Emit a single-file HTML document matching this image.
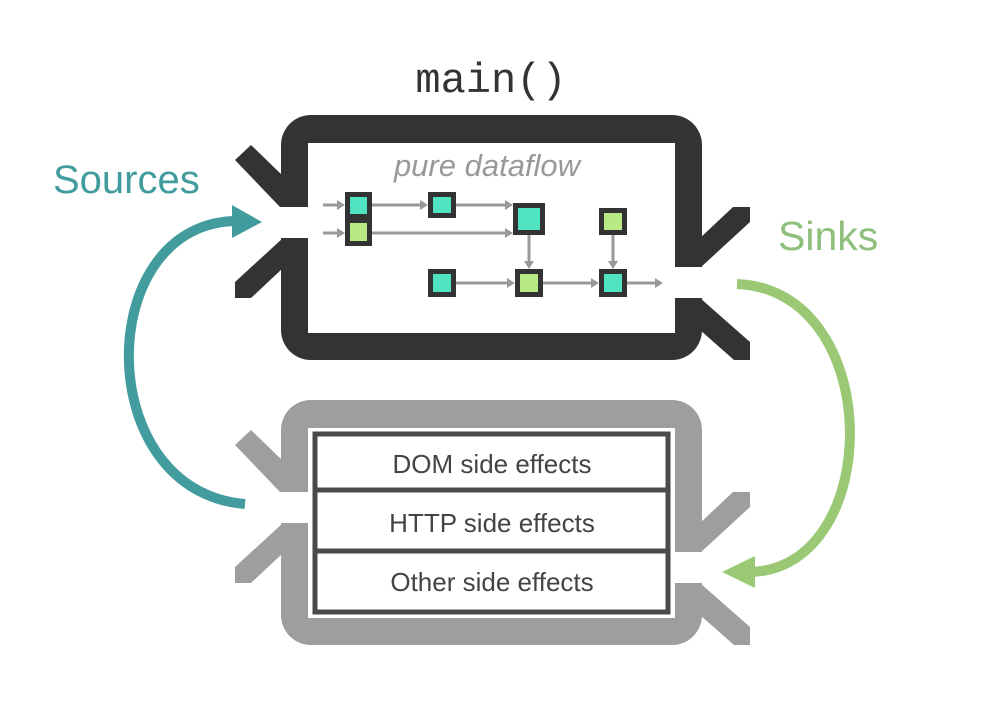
<!DOCTYPE html>
<html><head><meta charset="utf-8"><style>
body{margin:0;background:#fff;width:1003px;height:697px;overflow:hidden}
</style></head><body>
<svg width="1003" height="697" viewBox="0 0 1003 697" xmlns="http://www.w3.org/2000/svg">
<defs>
<g id="frame">
  <rect x="281" y="115" width="421" height="245" rx="30"/>
  <polygon points="235,160 251,145 283,176 283,207 280,207"/>
  <polygon points="283,238 283,268 251,298 235,298 235,282"/>
  <polygon points="700,238 733,207 750,207 750,222 700,268"/>
  <polygon points="700,298 750,342 750,360 734,360 700,330"/>
</g>
<g id="holes">
  <rect x="308" y="143" width="367" height="190"/>
  <rect x="276" y="207" width="34" height="31"/>
  <rect x="673" y="267" width="34" height="31"/>
</g>
</defs>
<text x="491" y="92" text-anchor="middle" font-family="Liberation Mono, monospace" font-size="42" fill="#333">main()</text>
<use href="#frame" fill="#333"/>
<use href="#holes" fill="#fff"/>
<g transform="translate(0,285)"><use href="#frame" fill="#9e9e9e"/><use href="#holes" fill="#fff"/></g>

<text x="487" y="176" text-anchor="middle" font-family="Liberation Sans, sans-serif" font-style="italic" font-size="31" fill="#999">pure dataflow</text>

<g stroke="#999" stroke-width="3" fill="none">
  <line x1="323" y1="205" x2="340" y2="205"/>
  <line x1="323" y1="233" x2="340" y2="233"/>
  <line x1="372" y1="205" x2="423" y2="205"/>
  <line x1="456" y1="205" x2="508" y2="205"/>
  <line x1="372" y1="233" x2="508" y2="233"/>
  <line x1="529" y1="235" x2="529" y2="263"/>
  <line x1="613" y1="235" x2="613" y2="263"/>
  <line x1="456" y1="283" x2="510" y2="283"/>
  <line x1="543" y1="283" x2="594" y2="283"/>
  <line x1="627" y1="283" x2="657" y2="283"/>
</g>
<g fill="#999">
  <polygon points="345,205 337,200 337,210"/><polygon points="345,233 337,228 337,238"/>
  <polygon points="428,205 420,200 420,210"/><polygon points="513,205 505,200 505,210"/>
  <polygon points="513,233 505,228 505,238"/><polygon points="529,269 524,261 534,261"/>
  <polygon points="613,269 608,261 618,261"/><polygon points="515,283 507,278 507,288"/>
  <polygon points="599,283 591,278 591,288"/><polygon points="663,283 655,278 655,288"/>
</g>
<g stroke="#333" stroke-width="5">
  <rect x="347.5" y="194.5" width="22" height="22" fill="#50e3c2"/>
  <rect x="347.5" y="220.5" width="22" height="23" fill="#b8e986"/>
  <rect x="430.5" y="194.5" width="23" height="21" fill="#50e3c2"/>
  <rect x="515.5" y="205.5" width="27" height="27" fill="#50e3c2"/>
  <rect x="601.5" y="210.5" width="23" height="22" fill="#b8e986"/>
  <rect x="430.5" y="271.5" width="23" height="23" fill="#50e3c2"/>
  <rect x="517.5" y="271.5" width="23" height="23" fill="#b8e986"/>
  <rect x="601.5" y="271.5" width="23" height="23" fill="#50e3c2"/>
</g>

<rect x="315" y="434" width="353" height="178" fill="#fff" stroke="#4a4a4a" stroke-width="5"/>
<line x1="315" y1="490" x2="668" y2="490" stroke="#4a4a4a" stroke-width="5"/>
<line x1="315" y1="551" x2="668" y2="551" stroke="#4a4a4a" stroke-width="5"/>
<g font-family="Liberation Sans, sans-serif" font-size="26" fill="#444" text-anchor="middle">
  <text x="492" y="473">DOM side effects</text>
  <text x="492" y="532">HTTP side effects</text>
  <text x="492" y="591">Other side effects</text>
</g>

<text x="53" y="193" font-family="Liberation Sans, sans-serif" font-size="40" fill="#429c9e">Sources</text>
<text x="778" y="250" font-family="Liberation Sans, sans-serif" font-size="41" fill="#8ec07c">Sinks</text>

<path d="M245,504 C92,492 92,226 234,221" fill="none" stroke="#429c9e" stroke-width="10"/>
<polygon points="262,222 232,205 232,238" fill="#429c9e"/>
<path d="M737,284 C885,290 885,566 752,572" fill="none" stroke="#9bc875" stroke-width="10"/>
<polygon points="722,572 755,556 755,588" fill="#9bc875"/>
</svg>
</body></html>
